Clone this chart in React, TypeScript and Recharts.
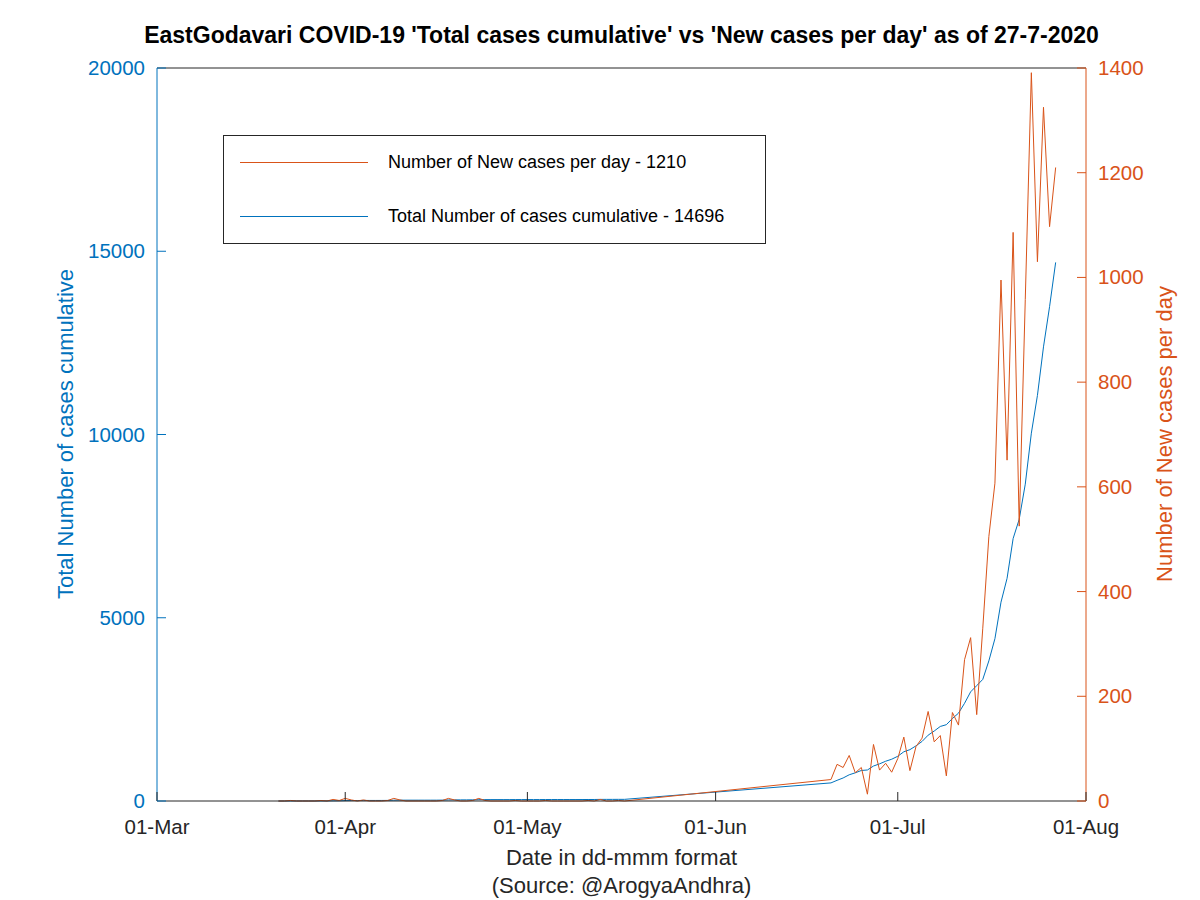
import { LineChart, Line, XAxis, YAxis, ReferenceLine, Legend } from "recharts"

// days counted from 01-Mar-2020
const days = [
  20, 21, 22, 23, 24, 25, 26, 27, 28, 29, 30, 31, 32, 33, 34, 35, 36, 37, 38, 39,
  40, 41, 42, 43, 44, 45, 46, 47, 48, 49, 50, 51, 52, 53, 54, 55, 56, 57, 58, 59,
  60, 61, 62, 63, 64, 65, 66, 67, 68, 69, 70, 71, 72, 73, 74, 75, 76, 77,
  111, 112, 113, 114, 115, 116, 117, 118, 119, 120, 121, 122, 123, 124, 125, 126, 127, 128, 129, 130,
  131, 132, 133, 134, 135, 136, 137, 138, 139, 140, 141, 142, 143, 144, 145, 146, 147, 148,
]

const newCases = [
  0, 0, 1, 0, 0, 0, 0, 1, 0, 3, 1, 5, 2, 0, 2, 0, 0, 0, 1, 5,
  2, 0, 0, 0, 0, 0, 0, 1, 5, 2, 0, 0, 1, 5, 1, 0, 0, 0, 0, 1,
  0, 0, 0, 0, 1, 0, 0, 0, 0, 0, 0, 1, 0, 3, 0, 0, 1, 0,
  41, 70, 64, 87, 54, 64, 13, 108, 59, 72, 55, 81, 122, 58, 104, 120, 171, 113, 125, 48,
  169, 145, 270, 312, 165, 330, 505, 607, 995, 651, 1086, 525, 958, 1391, 1030, 1325, 1097, 1210,
]

const totalCases = [
  0, 0, 1, 1, 1, 1, 1, 2, 2, 5, 6, 11, 13, 13, 15, 15, 15, 15, 16, 21,
  23, 23, 23, 23, 23, 23, 23, 24, 29, 31, 31, 31, 32, 37, 38, 38, 38, 38, 38, 39,
  39, 39, 39, 39, 40, 40, 40, 40, 40, 40, 40, 41, 41, 44, 44, 44, 45, 45,
  494, 564, 628, 715, 769, 833, 846, 954, 1013, 1085, 1140, 1221, 1343, 1401, 1505, 1625, 1796, 1909, 2034, 2082,
  2251, 2396, 2666, 2978, 3148, 3318, 3823, 4430, 5425, 6076, 7162, 7687, 8645, 10036, 11066, 12391, 13488, 14696,
]

const xTicks = [0, 31, 61, 92, 122, 153]
const xTickLabels = ["01-Mar", "01-Apr", "01-May", "01-Jun", "01-Jul", "01-Aug"]
const leftTicks = [0, 5000, 10000, 15000, 20000]
const rightTicks = [0, 200, 400, 600, 800, 1000, 1200, 1400]

const data = days.map((d, i) => ({ day: d, newCases: newCases[i], total: totalCases[i] }))

const FONT = '"Liberation Sans", Arial, Helvetica, sans-serif'
const BLUE = "#0072BD"
const ORANGE = "#D95319"
const AXIS = "#262626"

function XTick(props: any) {
  const { x, y, payload } = props
  const label = xTickLabels[xTicks.indexOf(payload.value)]
  return (
    <g>
      <line x1={x} y1={y} x2={x} y2={y - 9} stroke={AXIS} />
      <text x={x} y={y + 33} textAnchor="middle" fontSize={20.5} fill={AXIS} fontFamily={FONT}>
        {label}
      </text>
    </g>
  )
}

function LeftTick(props: any) {
  const { x, y, payload } = props
  return (
    <g>
      <line x1={x} y1={y} x2={x + 9} y2={y} stroke={BLUE} />
      <text x={x - 12} y={y + 7} textAnchor="end" fontSize={20.5} fill={BLUE} fontFamily={FONT}>
        {payload.value}
      </text>
    </g>
  )
}

function RightTick(props: any) {
  const { x, y, payload } = props
  return (
    <g>
      <line x1={x} y1={y} x2={x - 9} y2={y} stroke={ORANGE} />
      <text x={x + 12} y={y + 7} textAnchor="start" fontSize={20.5} fill={ORANGE} fontFamily={FONT}>
        {payload.value}
      </text>
    </g>
  )
}

function LegendBox() {
  const rows = [
    { color: ORANGE, text: "Number of New cases per day - 1210" },
    { color: BLUE, text: "Total Number of cases cumulative - 14696" },
  ]
  return (
    <div
      style={{
        width: 541,
        height: 107,
        border: "1px solid #262626",
        background: "#fff",
        fontFamily: FONT,
        fontSize: 18,
        color: "#000",
        boxSizing: "content-box",
      }}
    >
      {rows.map((r, i) => (
        <div key={i} style={{ position: "absolute", left: 17, top: 14 + i * 54, height: 26, display: "flex", alignItems: "center" }}>
          <div style={{ width: 128, height: 1, background: r.color }} />
          <span style={{ marginLeft: 20, whiteSpace: "nowrap" }}>{r.text}</span>
        </div>
      ))}
    </div>
  )
}

export default function App() {
  return (
    <div style={{ position: "absolute", left: 0, top: 0, width: 1200, height: 900, background: "#fff", fontFamily: FONT }}>
      <LineChart width={1200} height={900} data={data} margin={{ top: 68, right: 54, bottom: 50, left: 97 }}>
        <XAxis
          dataKey="day"
          type="number"
          domain={[0, 153]}
          ticks={xTicks}
          interval={0}
          height={49}
          tickSize={0}
          tickMargin={0}
          tickLine={false}
          axisLine={{ stroke: AXIS }}
          tick={<XTick />}
        />
        <YAxis
          yAxisId="left"
          orientation="left"
          domain={[0, 20000]}
          ticks={leftTicks}
          interval={0}
          width={60}
          tickSize={0}
          tickMargin={0}
          tickLine={false}
          axisLine={{ stroke: BLUE }}
          tick={<LeftTick />}
        />
        <YAxis
          yAxisId="right"
          orientation="right"
          domain={[0, 1400]}
          ticks={rightTicks}
          interval={0}
          width={60}
          tickSize={0}
          tickMargin={0}
          tickLine={false}
          axisLine={{ stroke: ORANGE }}
          tick={<RightTick />}
        />
        <ReferenceLine yAxisId="left" y={20000} stroke={AXIS} />
        <Line
          yAxisId="left"
          type="linear"
          dataKey="total"
          stroke={BLUE}
          strokeWidth={1}
          dot={false}
          isAnimationActive={false}
        />
        <Line
          yAxisId="right"
          type="linear"
          dataKey="newCases"
          stroke={ORANGE}
          strokeWidth={1}
          dot={false}
          isAnimationActive={false}
        />
        <Legend
          layout="vertical"
          align="center"
          verticalAlign="middle"
          content={() => <LegendBox />}
          wrapperStyle={{ left: 223, top: 135, width: 543, height: 109 }}
        />
      </LineChart>
      <div
        style={{
          position: "absolute",
          left: 0,
          width: 1243,
          top: 21,
          textAlign: "center",
          fontWeight: "bold",
          fontSize: 23,
          lineHeight: "28px",
          color: "#000",
          whiteSpace: "nowrap",
        }}
      >
        EastGodavari COVID-19 'Total cases cumulative' vs 'New cases per day' as of 27-7-2020
      </div>
      <div
        style={{
          position: "absolute",
          left: 66 - 250,
          top: 434 - 14,
          width: 500,
          height: 28,
          lineHeight: "28px",
          textAlign: "center",
          fontSize: 22,
          color: BLUE,
          transform: "rotate(-90deg)",
          whiteSpace: "nowrap",
        }}
      >
        Total Number of cases cumulative
      </div>
      <div
        style={{
          position: "absolute",
          left: 1165 - 250,
          top: 434 - 14,
          width: 500,
          height: 28,
          lineHeight: "28px",
          textAlign: "center",
          fontSize: 22,
          color: ORANGE,
          transform: "rotate(-90deg)",
          whiteSpace: "nowrap",
        }}
      >
        Number of New cases per day
      </div>
      <div
        style={{
          position: "absolute",
          left: 0,
          width: 1243,
          top: 844,
          textAlign: "center",
          fontSize: 22,
          lineHeight: "28px",
          color: AXIS,
        }}
      >
        Date in dd-mmm format
        <br />
        (Source: @ArogyaAndhra)
      </div>
    </div>
  )
}
